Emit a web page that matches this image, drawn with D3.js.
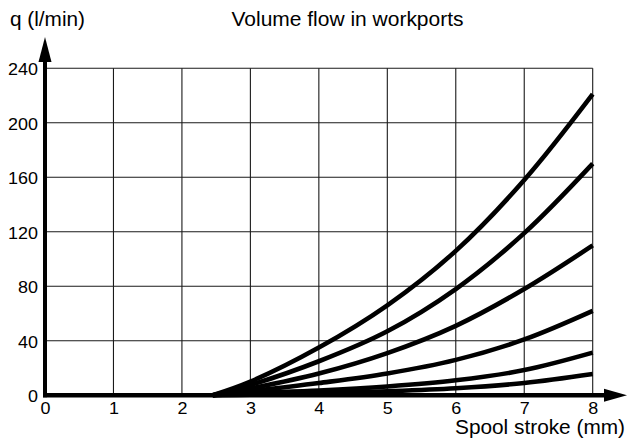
<!DOCTYPE html>
<html>
<head>
<meta charset="utf-8">
<script src="https://cdn.jsdelivr.net/npm/d3@7"></script>
<style>
  html, body { margin: 0; padding: 0; background: #fff; }
  svg { display: block; }
  text { font-family: "Liberation Sans", Arial, Helvetica, sans-serif; fill: #000; }
</style>
</head>
<body>
<svg id="chart" width="628" height="439"></svg>
<script>
// Spool stroke (mm) sample positions and flow (l/min) for each curve
const stroke = [2.45, 3, 4, 5, 6, 7, 8];
const flowA = [0, 10, 35, 66, 106, 158, 221];
const flowB = [0, 7.5, 25, 47, 78, 119, 170];
const flowC = [0, 5, 16, 31, 51, 78, 110];
const flowD = [0, 3, 9, 16, 26, 41, 62];
const flowE = [0, 1.5, 3.5, 6.5, 11, 18.5, 31.3];
const flowF = [0, 0.5, 1.5, 3, 5.2, 9, 15.6];
const seriesList = [flowA, flowB, flowC, flowD, flowE, flowF];

const xTicks = [0, 1, 2, 3, 4, 5, 6, 7, 8];
const yTicks = [0, 40, 80, 120, 160, 200, 240];

const svg = d3.select("#chart");
const x = d3.scaleLinear().domain([0, 8]).range([45, 592.7]);
const y = d3.scaleLinear().domain([0, 240]).range([395.3, 68.3]);

// slightly widened glyphs, as in the printed chart
function widen(sel, k) {
  sel.each(function () {
    const w = this.getComputedTextLength();
    d3.select(this).attr("textLength", w * k).attr("lengthAdjust", "spacingAndGlyphs");
  });
}

// grid
const grid = svg.append("g").attr("stroke", "#1a1a1a").attr("stroke-width", 1.1);
grid.selectAll("line.h").data(yTicks.filter(d => d > 0)).join("line")
  .attr("x1", x(0)).attr("x2", x(8))
  .attr("y1", d => y(d)).attr("y2", d => y(d));
grid.selectAll("line.v").data(xTicks.filter(d => d > 0)).join("line")
  .attr("x1", d => x(d)).attr("x2", d => x(d))
  .attr("y1", y(0)).attr("y2", y(240));

// tick labels via axes
const yAxis = svg.append("g").attr("transform", `translate(${x(0) - 7},1.5)`)
  .call(d3.axisLeft(y).tickValues(yTicks).tickSize(0).tickPadding(0).tickFormat(d3.format("d")));
yAxis.select(".domain").remove();
yAxis.selectAll("text").attr("font-size", 16).attr("font-family", null).attr("fill", "#000");
widen(yAxis.selectAll("text"), 1.12);

const xAxis = svg.append("g").attr("transform", `translate(0,${y(0) + 7})`)
  .call(d3.axisBottom(x).tickValues(xTicks).tickSize(0).tickPadding(0).tickFormat(d3.format("d")));
xAxis.select(".domain").remove();
xAxis.selectAll("text").attr("font-size", 16).attr("font-family", null).attr("fill", "#000");
widen(xAxis.selectAll("text"), 1.12);

// curves
const line = d3.line().x((d, i) => x(stroke[i])).y(d => y(Math.max(0, d)))
  .curve(d3.curveCatmullRom.alpha(0.5));
svg.append("g").selectAll("path").data(seriesList).join("path")
  .attr("d", d => line(d))
  .attr("fill", "none").attr("stroke", "#000").attr("stroke-width", 4.6)
  .attr("stroke-linecap", "butt");

// axes with arrows
svg.append("line").attr("x1", x(0)).attr("x2", x(0)).attr("y1", y(0) + 2).attr("y2", 60)
  .attr("stroke", "#000").attr("stroke-width", 4);
svg.append("path").attr("d", `M${x(0)},37 L${x(0) - 6.5},62 L${x(0) + 6.5},62 Z`).attr("fill", "#000");
svg.append("line").attr("x1", x(0) - 2).attr("x2", 607).attr("y1", y(0)).attr("y2", y(0))
  .attr("stroke", "#000").attr("stroke-width", 4.5);
svg.append("path").attr("d", `M627,${y(0)} L604,${y(0) - 6.5} L604,${y(0) + 6.5} Z`).attr("fill", "#000");

// titles
svg.append("text").attr("x", 10).attr("y", 26).attr("font-size", 20)
  .attr("textLength", 75).attr("lengthAdjust", "spacingAndGlyphs").text("q (l/min)");
svg.append("text").attr("x", 231.5).attr("y", 26).attr("font-size", 20)
  .attr("textLength", 232).attr("lengthAdjust", "spacingAndGlyphs").text("Volume flow in workports");
svg.append("text").attr("x", 455).attr("y", 434).attr("font-size", 20)
  .attr("textLength", 170).attr("lengthAdjust", "spacingAndGlyphs").text("Spool stroke (mm)");
</script>
</body>
</html>
